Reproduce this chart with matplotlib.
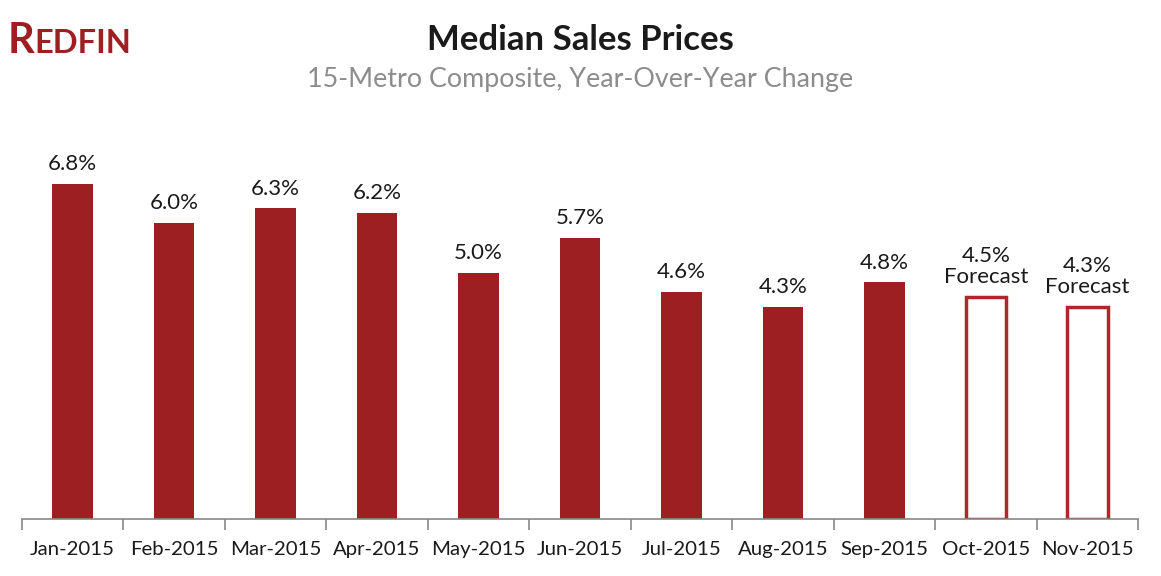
import matplotlib
matplotlib.use("Agg")
import matplotlib.pyplot as plt
import numpy as np

# data
months = ["Jan-2015", "Feb-2015", "Mar-2015", "Apr-2015", "May-2015", "Jun-2015",
          "Jul-2015", "Aug-2015", "Sep-2015", "Oct-2015", "Nov-2015"]
yoy = [6.8, 6.0, 6.3, 6.2, 5.0, 5.7, 4.6, 4.3, 4.8, 4.5, 4.3]
forecast = [False] * 9 + [True, True]

red = "#9E1F22"
plt.rcParams['font.family'] = ['Lato', 'DejaVu Sans']

fig = plt.figure(figsize=(11.61, 5.76), dpi=100)
ax = fig.add_axes([22 / 1161, 57 / 576, 1116 / 1161, 389 / 576])

x = np.arange(len(months))
for i in range(len(months)):
    if forecast[i]:
        ax.bar(x[i], yoy[i], width=0.4, facecolor="white", edgecolor="#B0262B", linewidth=2.5)
        lab = "%.1f%%\nForecast" % yoy[i]
    else:
        ax.bar(x[i], yoy[i], width=0.4, color=red)
        lab = "%.1f%%" % yoy[i]
    ax.text(x[i], yoy[i] + 0.2, lab, ha="center", va="bottom", fontsize=16,
            color="#1a1a1a", linespacing=1.1)

ax.set_xlim(-0.5, len(months) - 0.5)
ax.set_ylim(0, 389 / 49.3)
ax.set_yticks([])
for s in ["top", "right", "left"]:
    ax.spines[s].set_visible(False)
ax.spines["bottom"].set_color("#888888")
ax.spines["bottom"].set_linewidth(1.2)
ax.set_xticks(x)
ax.set_xticklabels(months, fontsize=14.7, color="#1a1a1a")
ax.tick_params(axis="x", which="major", length=0, pad=16)
ax.set_xticks(np.arange(-0.5, len(months)), minor=True)
ax.tick_params(axis="x", which="minor", length=8, color="#888888", width=1.2)

fig.text(0.5, 1 - 40 / 576, "Median Sales Prices", ha="center", va="center",
         fontsize=25, fontweight="bold", color="#1a1a1a")
fig.text(0.5, 1 - 80 / 576, "15-Metro Composite, Year-Over-Year Change", ha="center",
         va="center", fontsize=19.4, color="#8c8c8c")

# logo: big R followed by smaller caps
r = fig.text(8 / 1161, 1 - 53 / 576, "R", ha="left", va="baseline", fontsize=30,
             fontweight="bold", color=red)
fig.canvas.draw()
bb = r.get_window_extent(fig.canvas.get_renderer())
fig.text(bb.x1 / 1161, 1 - 53 / 576, "EDFIN", ha="left", va="baseline", fontsize=23.5,
         fontweight="bold", color=red)

fig.savefig("out.png", dpi=100)
